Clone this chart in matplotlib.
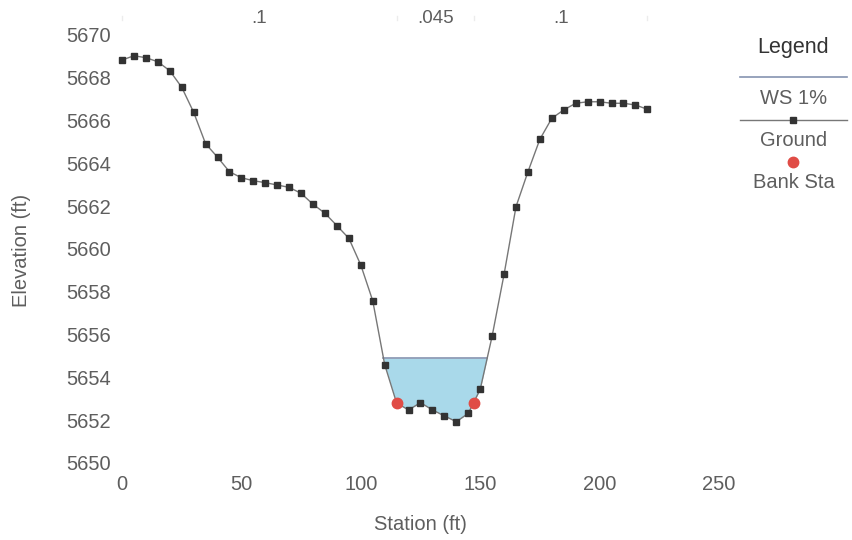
import matplotlib.pyplot as plt
from matplotlib.lines import Line2D
import numpy as np

plt.rcParams['font.family'] = ['Liberation Sans', 'DejaVu Sans']

# ground profile (station ft, elevation ft)
station = [0, 5, 10, 15, 20, 25, 30, 35, 40, 45, 50, 55, 60, 65, 70, 75, 80, 85, 90, 95,
           100, 105, 110, 115, 120, 125, 130, 135, 140, 145, 150, 155, 160, 165, 170, 175,
           180, 185, 190, 195, 200, 205, 210, 215, 220]
elevation = [5668.83, 5669.03, 5668.94, 5668.75, 5668.33, 5667.56, 5666.39, 5664.92, 5664.29,
             5663.61, 5663.33, 5663.19, 5663.10, 5662.99, 5662.88, 5662.60, 5662.09, 5661.67,
             5661.09, 5660.50, 5659.25, 5657.58, 5654.60, 5652.80, 5652.48, 5652.82, 5652.48,
             5652.20, 5651.93, 5652.32, 5653.44, 5655.93, 5658.82, 5661.98, 5663.61, 5665.13,
             5666.11, 5666.50, 5666.81, 5666.88, 5666.88, 5666.81, 5666.81, 5666.73, 5666.53]

bank_sta = [115, 147.5]
bank_elev = [5652.8, 5652.8]

ws_elev = 5654.9

# manning's n zones
n_bounds = [0, 115, 147.5, 220]
n_values = ['.1', '.045', '.1']

txt = '#5e5e5e'
fs = 14.5

fig = plt.figure(figsize=(8.53, 5.40), dpi=100)
ax = fig.add_axes([122 / 853, 77 / 540, (719 - 122) / 853, 428 / 540])

st = np.array(station, dtype=float)
el = np.array(elevation)
ax.fill_between(st, el, ws_elev, where=el < ws_elev, interpolate=True,
                color='#a9d9ea', linewidth=0, zorder=1)

# water surface line between the two ground crossings
wet = np.where(el < ws_elev)[0]
i0, i1 = wet[0], wet[-1]
xl = np.interp(ws_elev, [el[i0], el[i0 - 1]], [st[i0], st[i0 - 1]])
xr = np.interp(ws_elev, [el[i1], el[i1 + 1]], [st[i1], st[i1 + 1]])
ax.plot([xl, xr], [ws_elev, ws_elev], color='#8593b0', lw=1.2, zorder=2)

ax.plot(station, elevation, color='#777777', lw=1.0, marker='s', markersize=4.3,
        markerfacecolor='#333333', markeredgecolor='#333333', zorder=3, clip_on=False)
ax.plot(bank_sta, bank_elev, 'o', color='#e04c46', markersize=7.5, zorder=4)

ax.set_xlim(0, 250)
ax.set_ylim(5650, 5670)
ax.set_xticks([0, 50, 100, 150, 200, 250])
ax.set_yticks(range(5650, 5671, 2))
for s in ax.spines.values():
    s.set_visible(False)
ax.tick_params(length=0, labelsize=fs, labelcolor=txt, pad=8)
ax.tick_params(axis='x', pad=9)
ax.set_xlabel('Station (ft)', fontsize=fs, color=txt)
ax.set_ylabel('Elevation (ft)', fontsize=fs, color=txt)
ax.xaxis.set_label_coords((420 - 122) / 597, (463 - 524) / 428)
ax.yaxis.set_label_coords((22 - 122) / 597, (463 - 250) / 428)
ax.xaxis.label.set_va('center')
ax.yaxis.label.set_va('center')

# n values along the top
for k, lab in enumerate(n_values):
    mid = (n_bounds[k] + n_bounds[k + 1]) / 2
    ax.text(mid, 5670.75, lab, ha='center', va='center', fontsize=fs - 1, color=txt,
            clip_on=False)
for b in n_bounds:
    ax.plot([b, b], [5670.7, 5670.9], color='#ececec', lw=1, clip_on=False)

# legend on the right
lx0, lx1 = 740 / 853, 847 / 853
lc = (lx0 + lx1) / 2
fig.text(lc, 1 - 47 / 540, 'Legend', ha='center', va='center', fontsize=fs + 1, color='#333333')
fig.add_artist(Line2D([lx0, lx1], [1 - 77 / 540] * 2, color='#8593b0', lw=1.2))
fig.text(lc, 1 - 98 / 540, 'WS 1%', ha='center', va='center', fontsize=fs, color=txt)
fig.add_artist(Line2D([lx0, lx1], [1 - 120 / 540] * 2, color='#777777', lw=1.0))
fig.add_artist(Line2D([lc], [1 - 120 / 540], marker='s', markersize=4.3,
                      color='#333333', lw=0))
fig.text(lc, 1 - 140 / 540, 'Ground', ha='center', va='center', fontsize=fs, color=txt)
fig.add_artist(Line2D([lc], [1 - 162 / 540], marker='o', markersize=7.5,
                      color='#e04c46', lw=0))
fig.text(lc, 1 - 183 / 540, 'Bank Sta', ha='center', va='center', fontsize=fs, color=txt)

fig.savefig('out.png', dpi=100)
